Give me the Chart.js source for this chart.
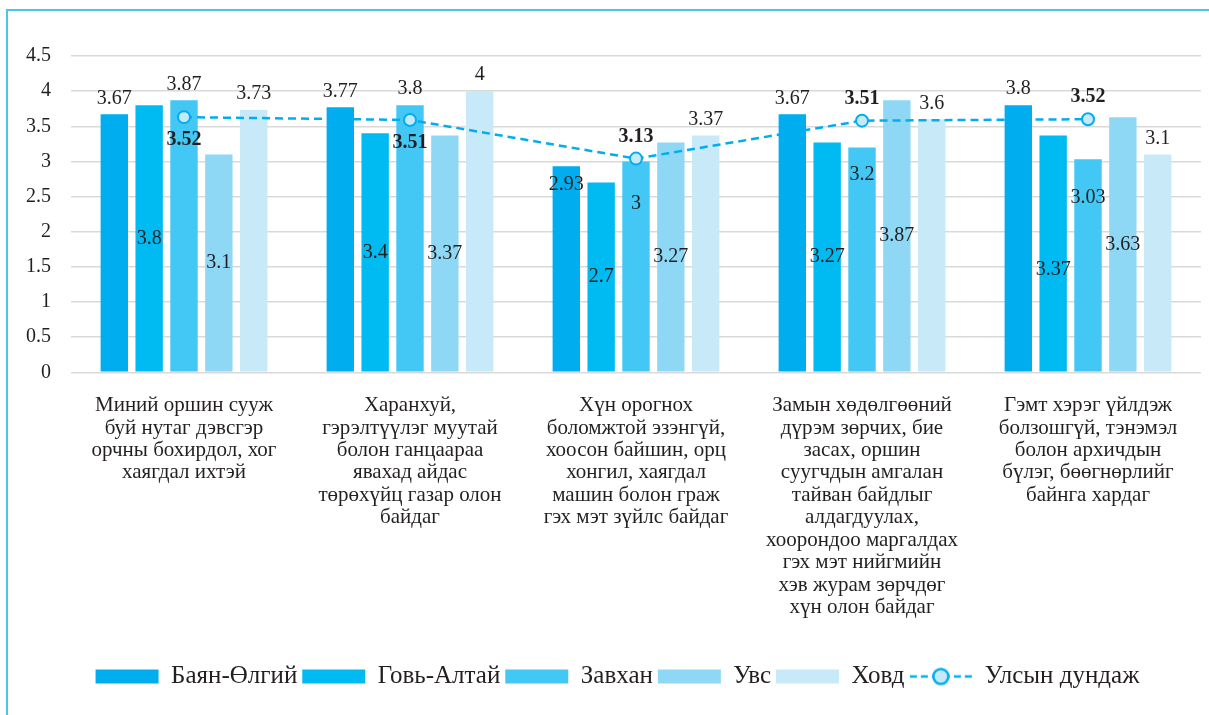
<!DOCTYPE html>
<html>
<head>
<meta charset="utf-8">
<script src="https://cdn.jsdelivr.net/npm/chart.js@4.4.1/dist/chart.umd.min.js"></script>
<style>
  html, body { margin: 0; padding: 0; background: #fff; }
  #wrap { position: relative; width: 1209px; height: 715px; overflow: hidden; }
  #frame { position: absolute; left: 6px; top: 9px; width: 1300px; height: 800px;
           border-left: 2px solid #4cc4ef; border-top: 2px solid #4cc4ef; }
  canvas { position: absolute; left: 0; top: 0; }
</style>
</head>
<body>
<div id="wrap">
  <div id="frame"></div>
  <canvas id="chart" width="1209" height="715"></canvas>
</div>
<script>
// categories (wrapped the way they appear under the axis)
const categories = [
    ['Миний оршин сууж', 'буй нутаг дэвсгэр', 'орчны бохирдол, хог', 'хаягдал ихтэй'],
    ['Харанхуй,', 'гэрэлтүүлэг муутай', 'болон ганцаараа', 'явахад айдас', 'төрөхүйц газар олон', 'байдаг'],
    ['Хүн орогнох', 'боломжтой эзэнгүй,', 'хоосон байшин, орц', 'хонгил, хаягдал', 'машин болон граж', 'гэх мэт зүйлс байдаг'],
    ['Замын хөдөлгөөний', 'дүрэм зөрчих, бие', 'засах, оршин', 'суугчдын амгалан', 'тайван байдлыг', 'алдагдуулах,', 'хоорондоо маргалдах', 'гэх мэт нийгмийн', 'хэв журам зөрчдөг', 'хүн олон байдаг'],
    ['Гэмт хэрэг үйлдэж', 'болзошгүй, тэнэмэл', 'болон архичдын', 'бүлэг, бөөгнөрлийг', 'байнга хардаг']
];

const bayanUlgii = [3.67, 3.77, 2.93, 3.67, 3.8];
const goviAltai  = [3.8, 3.4, 2.7, 3.27, 3.37];
const zavkhan    = [3.87, 3.8, 3, 3.2, 3.03];
const uvs        = [3.1, 3.37, 3.27, 3.87, 3.63];
const khovd      = [3.73, 4, 3.37, 3.6, 3.1];

// national average: where the markers sit, and the labels printed next to them
const nationalAvg       = [3.63, 3.59, 3.04, 3.58, 3.6];
const nationalAvgLabels = ['3.52', '3.51', '3.13', '3.51', '3.52'];

const yTicks = [0, 0.5, 1, 1.5, 2, 2.5, 3, 3.5, 4, 4.5];

const FONT = "'Liberation Serif', 'DejaVu Serif', serif";
const TEXT = '#231f20';
const LINE_BLUE = '#00aeef';

// where each value label sits: 'top' = above the bar, number = fraction down from bar top
const labelPlace = [
    ['top', 'top', 0.09, 'top', 'top'],
    [0.5, 0.5, 0.5, 0.5, 0.57],
    ['top', 'top', 0.2, 0.12, 0.18],
    [0.5, 0.5, 0.5, 0.5, 0.5],
    ['top', 'top', 'top', 'top', 'top'],
    ['below', 'below', 'above', 'above', 'above']
];

const valueLabels = {
    id: 'valueLabels',
    afterDatasetsDraw(chart) {
        const ctx = chart.ctx;
        ctx.save();
        ctx.textAlign = 'center';
        ctx.textBaseline = 'middle';
        ctx.fillStyle = TEXT;
        chart.data.datasets.forEach((ds, di) => {
            const meta = chart.getDatasetMeta(di);
            meta.data.forEach((el, i) => {
                const place = labelPlace[di][i];
                let y, txt;
                if (ds.type === 'line') {
                    ctx.font = 'bold 20px ' + FONT;
                    txt = nationalAvgLabels[i];
                    y = place === 'below' ? el.y + 23 : el.y - 22;
                } else {
                    ctx.font = '20px ' + FONT;
                    txt = String(ds.data[i]);
                    y = place === 'top' ? el.y - 16 : el.y + place * (el.base - el.y);
                }
                ctx.fillText(txt, el.x, y);
            });
        });
        ctx.restore();
    }
};

// legend marker for the dashed line with a circle
function lineMarker() {
    const c = document.createElement('canvas');
    c.width = 64; c.height = 20;
    const g = c.getContext('2d');
    g.strokeStyle = LINE_BLUE;
    g.lineWidth = 2.5;
    g.setLineDash([7, 4]);
    g.beginPath(); g.moveTo(1, 10); g.lineTo(63, 10); g.stroke();
    g.setLineDash([]);
    g.beginPath(); g.arc(32, 10, 7.5, 0, Math.PI * 2);
    g.fillStyle = '#c6e9f8'; g.fill();
    g.lineWidth = 2.5; g.stroke();
    return c;
}
const marker = lineMarker();

function bar(label, data, color) {
    return {
        type: 'bar', label, data,
        backgroundColor: color, borderWidth: 0,
        barPercentage: 0.786, categoryPercentage: 0.771,
        order: 1
    };
}

new Chart(document.getElementById('chart'), {
    data: {
        labels: categories,
        datasets: [
            bar('Баян-Өлгий', bayanUlgii, '#00adee'),
            bar('Говь-Алтай', goviAltai, '#00bbf1'),
            bar('Завхан', zavkhan, '#43c7f4'),
            bar('Увс', uvs, '#8ed8f6'),
            bar('Ховд', khovd, '#c7e9f8'),
            {
                type: 'line', label: 'Улсын дундаж', data: nationalAvg,
                borderColor: LINE_BLUE, borderWidth: 2.5, borderDash: [8, 5],
                pointRadius: 6, pointBorderWidth: 2,
                pointBackgroundColor: '#c6e9f8', pointBorderColor: LINE_BLUE,
                fill: false, tension: 0, order: 0
            }
        ]
    },
    options: {
        responsive: false,
        animation: false,
        layout: { padding: { top: 56, left: 21, right: -5, bottom: 16 } },
        plugins: {
            tooltip: { enabled: false },
            legend: {
                position: 'bottom',
                labels: {
                    usePointStyle: true,
                    pointStyleWidth: 63,
                    boxHeight: 14,
                    padding: 5,
                    color: TEXT,
                    font: { family: FONT, size: 25 },
                    sort: (a, b) => a.datasetIndex - b.datasetIndex,
                    generateLabels(chart) {
                        const items = Chart.defaults.plugins.legend.labels.generateLabels(chart);
                        return items.map(it => {
                            const ds = chart.data.datasets[it.datasetIndex];
                            if (ds.type === 'line') {
                                it.pointStyle = marker;
                            } else {
                                it.pointStyle = 'rect';
                                it.lineWidth = 0;
                            }
                            return it;
                        });
                    }
                }
            }
        },
        scales: {
            x: {
                grid: { display: false, drawTicks: false },
                border: { display: false },
                afterFit(scale) { scale.height += 18; },
                ticks: {
                    color: TEXT, padding: 22, maxRotation: 0, autoSkip: false,
                    font: { family: FONT, size: 21, lineHeight: 1.07 }
                }
            },
            y: {
                min: 0, max: 4.5,
                afterBuildTicks(scale) { scale.ticks = yTicks.map(v => ({ value: v })); },
                afterFit(scale) { scale.width = 50; },
                grid: { color: '#d9d9d9', lineWidth: 1.5, drawTicks: false },
                border: { display: false },
                ticks: {
                    color: TEXT, padding: 20,
                    font: { family: FONT, size: 20 },
                    callback: v => String(v)
                }
            }
        }
    },
    plugins: [valueLabels]
});
</script>
</body>
</html>
